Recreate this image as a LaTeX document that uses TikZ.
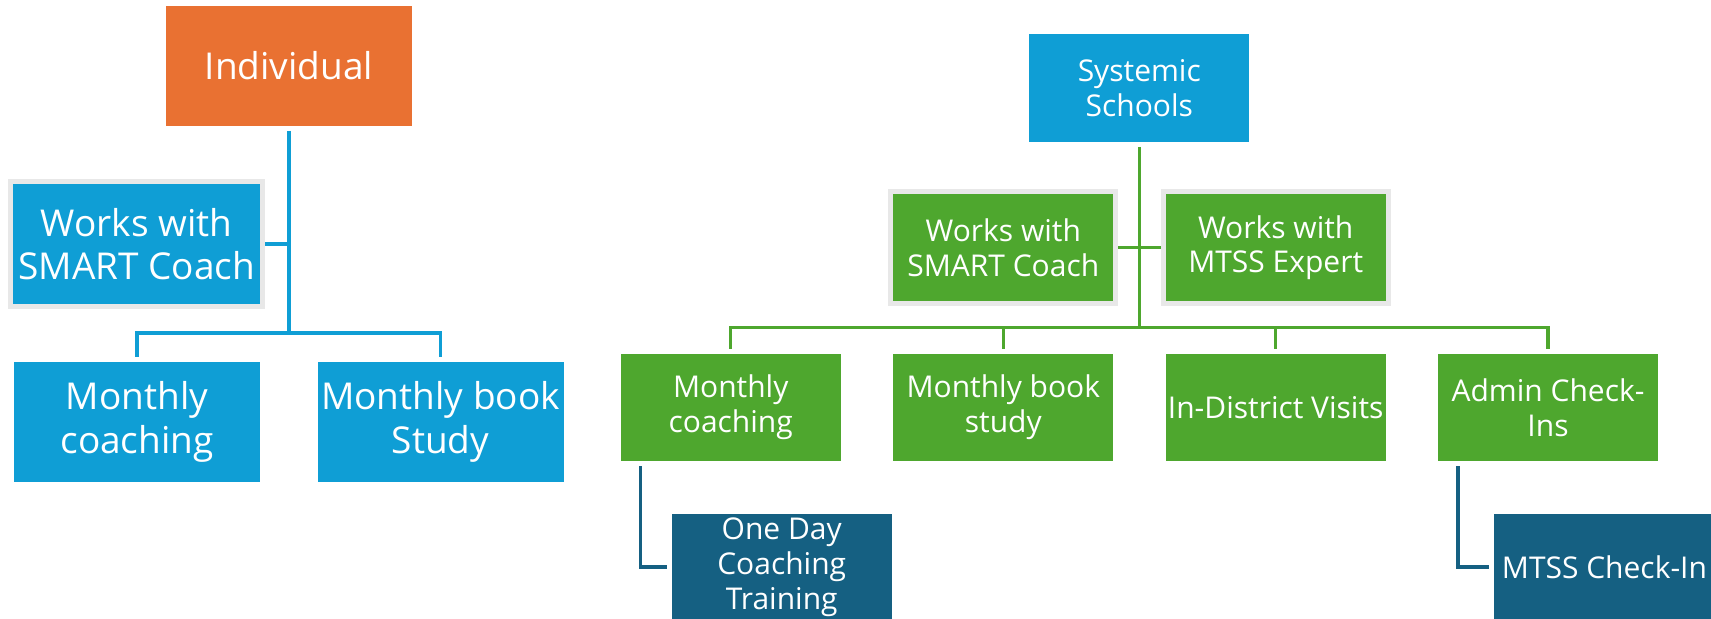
\documentclass[tikz,border=0pt]{standalone}
\usepackage{fontspec}
\setmainfont{Open Sans}
\usepackage{tikz}
\usetikzlibrary{positioning}
\definecolor{orangeacc}{HTML}{E97132}
\definecolor{blueacc}{HTML}{0F9ED5}
\definecolor{greenacc}{HTML}{4EA72E}
\definecolor{darkacc}{HTML}{156082}
\definecolor{framegray}{HTML}{E8E8E8}

\begin{document}
\begin{tikzpicture}[x=0.5pt,y=-0.5pt,
    box/.style={rectangle, fill=#1, text=white, align=center, inner sep=0pt, outer sep=2.5pt,
        minimum width=110pt, minimum height=53.5pt, font=\fontsize{15}{17.4}\selectfont},
    big/.style={minimum width=123pt, minimum height=60pt, font=\fontsize{18.5}{21.7}\selectfont},
    framed/.style={draw=framegray, line width=2.5pt, outer sep=1.25pt},
    link/.style={draw=#1, line width=1.75pt}]
    \useasboundingbox[fill=white] (0,0) rectangle (1711,619);
    % individual
    \node[box=orangeacc, big] (ind) at (289,66) {Individual};
    \node[box=blueacc, big, framed, minimum width=125.8pt, minimum height=62.5pt] (wsL) at (136.7,244) {Works with\\SMART Coach};
    \node[box=blueacc, big] (mcL) at (137,422) {Monthly\\coaching};
    \node[box=blueacc, big] (mbL) at (440.5,422) {Monthly book\\Study};
    \coordinate (busL) at (289,333);
    \draw[link=blueacc] (ind.south) -- (busL);
    \draw[link=blueacc] (wsL.east) -- (wsL.east -| busL);
    \draw[link=blueacc] (mcL.north) -- (mcL.north |- busL) -- (mbL.north |- busL) -- (mbL.north);
    % systemic
    \node[box=blueacc, minimum height=54pt] (sys) at (1139.3,88) {Systemic\\Schools};
    \node[box=greenacc, framed, minimum width=112.5pt, minimum height=56pt] (wsR) at (1003.3,247.7) {Works with\\SMART Coach};
    \node[box=greenacc, framed, minimum width=112.5pt, minimum height=56pt] (wm) at (1275.7,247.7) {Works with\\MTSS Expert};
    \node[box=greenacc] (mcR) at (730.7,407.5) {Monthly\\coaching};
    \node[box=greenacc] (mbR) at (1003.3,407.5) {Monthly book\\study};
    \node[box=greenacc] (idv) at (1275.7,407.5) {In-District Visits};
    \node[box=greenacc] (adm) at (1548,407.5) {Admin Check-\\Ins};
    \node[box=darkacc] (odt) at (781.7,567) {One Day\\Coaching\\Training};
    \node[box=darkacc] (mck) at (1604.4,567) {MTSS Check-In};
    \coordinate (busR) at (1139.3,327.7);
    \draw[link=greenacc] (sys.south) -- (busR);
    \draw[link=greenacc] (wsR.east) -- (wm.west);
    \draw[link=greenacc] (mcR.north) -- (mcR.north |- busR) -- (adm.north |- busR) -- (adm.north);
    \foreach \n in {mbR,idv}
        \draw[link=greenacc] (\n.north) -- (\n.north |- busR);
    \draw[link=darkacc] (mcR.south west) ++(25,0) |- (odt.west);
    \draw[link=darkacc] (adm.south west) ++(25,0) |- (mck.west);
\end{tikzpicture}
\end{document}
